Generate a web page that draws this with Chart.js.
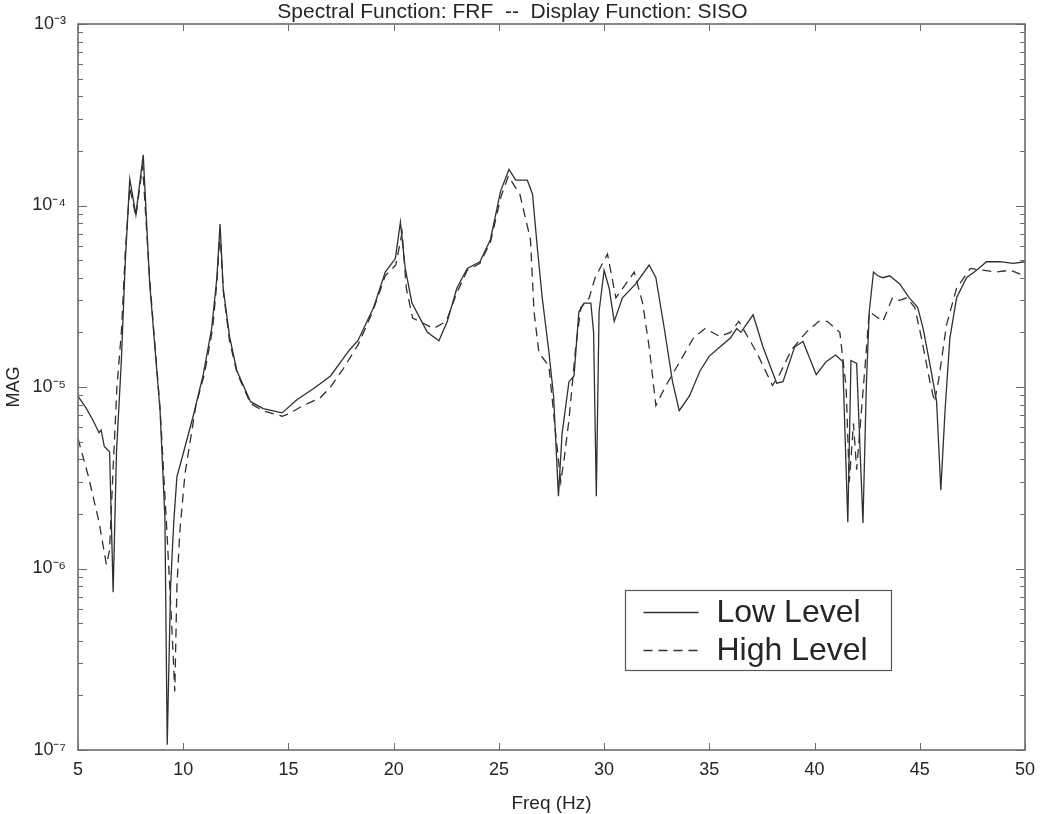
<!DOCTYPE html>
<html>
<head>
<meta charset="utf-8">
<script src="https://cdn.jsdelivr.net/npm/chart.js@4.4.1/dist/chart.umd.min.js"></script>
<style>
  html, body { margin: 0; padding: 0; background: #fff; }
  #wrap { width: 1045px; height: 814px; }
</style>
</head>
<body>
<div id="wrap"><canvas id="c" width="1045" height="814"></canvas></div>
<script>
// FRF magnitude, low vs high excitation level
const lowFreq = [
  5.0, 5.4, 5.7, 6.0, 6.1, 6.25, 6.5, 6.67, 6.83, 7.06, 7.25, 7.46, 7.75, 8.1, 8.4,
  8.9, 9.13, 9.24, 9.4, 9.55, 9.7, 10.0, 10.5, 10.95, 11.35, 11.6, 11.75, 11.9, 12.2,
  12.55, 13.2, 13.8, 14.7, 15.4, 16.2, 17.0, 17.9, 18.3, 19.05, 19.6, 20.08, 20.32,
  20.55, 20.87, 21.6, 22.15, 22.55, 23.0, 23.5, 24.1, 24.6, 25.08, 25.48, 25.8, 26.35,
  26.6, 26.83, 27.06, 27.38, 27.6, 27.83, 28.0, 28.33, 28.57, 28.8, 29.05, 29.37, 29.5,
  29.63, 29.76, 30.0, 30.24, 30.48, 30.87, 31.5, 32.14, 32.46, 32.86, 33.25, 33.57,
  34.05, 34.56, 35.0, 35.5, 36.0, 36.3, 36.5, 37.08, 37.55, 38.2, 38.5, 39.05, 39.45,
  40.08, 40.55, 41.0, 41.34, 41.58, 41.73, 42.0, 42.3, 42.46, 42.6, 42.8, 43.0, 43.25,
  43.57, 44.05, 44.5, 44.9, 45.16, 45.5, 45.8, 46.0, 46.2, 46.43, 46.75, 47.22, 47.7,
  48.17, 48.8, 49.44, 50.0
]
const lowMag = [
  8.9e-6, 7.6e-6, 6.6e-6, 5.6e-6, 5.8e-6, 4.7e-6, 4.4e-6, 7.4e-7, 4.4e-6, 1.4e-5, 5.0e-5, 1.4e-4, 8.9e-5, 1.9e-4, 3.8e-5,
  7.4e-6, 1.9e-6, 1.07e-7, 8e-7, 1.8e-6, 3.2e-6, 4.3e-6, 7.1e-6, 1.17e-5, 2.1e-5, 4.0e-5, 7.9e-5, 3.5e-5, 1.9e-5,
  1.23e-5, 8.3e-6, 7.6e-6, 7.2e-6, 8.5e-6, 9.8e-6, 1.15e-5, 1.6e-5, 1.8e-5, 2.75e-5, 4.3e-5, 5.1e-5, 8.1e-5,
  4.5e-5, 2.9e-5, 2.0e-5, 1.8e-5, 2.3e-5, 3.5e-5, 4.5e-5, 4.9e-5, 6.5e-5, 1.2e-4, 1.58e-4, 1.38e-4, 1.38e-4,
  1.15e-4, 5.8e-5, 3.1e-5, 1.55e-5, 8.9e-6, 2.5e-6, 5.5e-6, 1.07e-5, 1.15e-5, 2.6e-5, 2.9e-5, 2.9e-5, 2.0e-5,
  2.5e-6, 2.6e-5, 4.4e-5, 3.5e-5, 2.3e-5, 3.1e-5, 3.7e-5, 4.7e-5, 4.0e-5, 2.1e-5, 1.07e-5, 7.4e-6,
  8.9e-6, 1.23e-5, 1.48e-5, 1.66e-5, 1.86e-5, 2.1e-5, 2.0e-5, 2.5e-5, 1.66e-5, 1.05e-5, 1.07e-5, 1.66e-5, 1.78e-5,
  1.17e-5, 1.38e-5, 1.5e-5, 1.38e-5, 1.8e-6, 1.4e-5, 1.35e-5, 1.78e-6, 1.02e-5, 2.6e-5, 4.3e-5, 4.1e-5, 4.0e-5,
  4.1e-5, 3.7e-5, 3.1e-5, 2.75e-5, 2.1e-5, 1.3e-5, 8.3e-6, 2.7e-6, 7.4e-6, 1.86e-5, 3.1e-5, 4.0e-5, 4.4e-5,
  4.9e-5, 4.9e-5, 4.8e-5, 4.9e-5
]

const highFreq = [
  5.0, 5.5, 6.0, 6.35, 6.5, 6.65, 6.85, 7.06, 7.25, 7.46, 7.75, 8.07, 8.4, 8.9, 9.2,
  9.45, 9.6, 9.7, 9.84, 10.08, 10.6, 11.0, 11.4, 11.6, 11.75, 11.9, 12.2, 12.55, 13.2,
  13.8, 14.7, 15.0, 15.7, 16.5, 17.0, 17.6, 18.3, 19.0, 19.6, 20.1, 20.4, 20.6, 20.9,
  21.9, 22.5, 23.0, 23.5, 24.1, 24.6, 25.1, 25.45, 26.0, 26.5, 26.67, 26.9, 27.38, 27.7,
  27.94, 28.1, 28.33, 28.65, 28.9, 29.29, 29.57, 30.16, 30.56, 31.43, 31.83, 32.14,
  32.46, 32.94, 33.6, 34.24, 34.8, 35.5, 36.0, 36.4, 36.6, 37.25, 38.0, 38.3, 38.9,
  39.6, 40.2, 40.6, 41.2, 41.5, 41.65, 41.85, 42.0, 42.4, 42.6, 43.25, 43.7, 44.05,
  44.37, 44.76, 45.08, 45.48, 45.7, 45.9, 46.27, 46.75, 47.4, 48.0, 48.65, 49.3, 50.0
]
const highMag = [
  5.2e-6, 3.2e-6, 1.8e-6, 1.05e-6, 1.26e-6, 3.2e-6, 1.0e-5, 2.0e-5, 5.6e-5, 1.26e-4, 8.7e-5, 1.66e-4, 4.0e-5, 7.6e-6, 1.8e-6,
  5e-7, 2.1e-7, 8e-7, 1.6e-6, 3.3e-6, 7.9e-6, 1.17e-5, 2.1e-5, 3.8e-5, 7.1e-5, 3.4e-5, 1.8e-5, 1.2e-5, 8.1e-6,
  7.4e-6, 6.9e-6, 7.1e-6, 7.9e-6, 8.7e-6, 1.0e-5, 1.26e-5, 1.7e-5, 2.6e-5, 4.1e-5, 4.7e-5, 7.1e-5, 3.5e-5, 2.4e-5,
  2.1e-5, 2.3e-5, 3.3e-5, 4.4e-5, 4.8e-5, 6.3e-5, 1.12e-4, 1.45e-4, 1.15e-4, 6.5e-5, 2.6e-5, 1.55e-5, 1.3e-5, 5.5e-6,
  3.0e-6, 4.0e-6, 6.6e-6, 1.66e-5, 2.75e-5, 3.1e-5, 4.0e-5, 5.4e-5, 3.1e-5, 4.3e-5, 2.9e-5, 1.66e-5,
  7.9e-6, 1.02e-5, 1.38e-5, 1.86e-5, 2.1e-5, 1.9e-5, 2.0e-5, 2.3e-5, 2.1e-5, 1.55e-5, 1.02e-5, 1.15e-5, 1.6e-5,
  2.0e-5, 2.3e-5, 2.3e-5, 2.0e-5, 1.0e-5, 3.0e-6, 6.3e-6, 3.5e-6, 1.3e-5, 2.6e-5, 2.3e-5, 3.1e-5, 3.0e-5,
  3.1e-5, 2.75e-5, 1.86e-5, 1.07e-5, 8.3e-6, 1.1e-5, 2.2e-5, 3.5e-5, 4.5e-5, 4.4e-5, 4.3e-5, 4.4e-5, 4.1e-5
]

const xTicks = [5, 10, 15, 20, 25, 30, 35, 40, 45, 50]
const decades = [-7, -6, -5, -4, -3]
const seriesNames = ['Low Level', 'High Level']
const titleText = 'Spectral Function: FRF  --  Display Function: SISO'

const FONT = "'Liberation Sans', Arial, Helvetica, sans-serif"
const INK = '#262626'
const SUP = { '-': '\u207B', 0: '\u2070', 1: '\u00B9', 2: '\u00B2', 3: '\u00B3', 4: '\u2074', 5: '\u2075', 6: '\u2076', 7: '\u2077', 8: '\u2078', 9: '\u2079' }
const sup = (n) => String(n).split('').map((c) => SUP[c]).join('')

const toPoints = (xs, ys) => xs.map((x, i) => ({ x, y: ys[i] }))

// Frame, inward tick marks and the boxed legend, matlab style
const framePlugin = {
  id: 'frame',
  afterDatasetsDraw(chart) {
    const { ctx, chartArea: a, scales: { x, y } } = chart
    const seg = (x1, y1, x2, y2) => { ctx.beginPath(); ctx.moveTo(x1, y1); ctx.lineTo(x2, y2); ctx.stroke() }
    ctx.save()
    ctx.strokeStyle = '#6b6b6b'
    ctx.lineWidth = 1
    x.ticks.forEach((t) => {
      const px = Math.round(x.getPixelForValue(t.value)) + 0.5
      seg(px, a.bottom, px, a.bottom - 7)
      seg(px, a.top, px, a.top + 7)
    })
    y.ticks.forEach((t) => {
      const py = Math.round(y.getPixelForValue(t.value)) + 0.5
      const len = t.major ? 9 : 5
      seg(a.left, py, a.left + len, py)
      seg(a.right, py, a.right - len, py)
    })
    ctx.lineWidth = 1.6
    ctx.strokeRect(a.left, a.top, a.right - a.left, a.bottom - a.top)

    // legend box inside the axes
    const bx = Math.round(x.getPixelForValue(31.0)) + 0.5
    const by = Math.round(y.getPixelForValue(7.6e-7)) + 0.5
    const bw = 266
    const bh = 80
    ctx.fillStyle = '#fff'
    ctx.fillRect(bx, by, bw, bh)
    ctx.strokeStyle = '#555'
    ctx.lineWidth = 1.2
    ctx.strokeRect(bx, by, bw, bh)
    ctx.font = `32px ${FONT}`
    ctx.textBaseline = 'middle'
    chart.data.datasets.forEach((ds, i) => {
      const ly = by + 22 + i * 38
      ctx.strokeStyle = ds.borderColor
      ctx.lineWidth = ds.borderWidth
      ctx.setLineDash(ds.borderDash || [])
      seg(bx + 18, ly, bx + 73, ly)
      ctx.setLineDash([])
      ctx.fillStyle = INK
      ctx.fillText(ds.label, bx + 91, ly + 1)
    })
    ctx.restore()
  }
}

new Chart(document.getElementById('c'), {
  type: 'line',
  data: {
    datasets: [
      {
        label: seriesNames[0],
        data: toPoints(lowFreq, lowMag),
        borderColor: '#303030',
        borderWidth: 1.3,
        pointRadius: 0,
        tension: 0
      },
      {
        label: seriesNames[1],
        data: toPoints(highFreq, highMag),
        borderColor: '#303030',
        borderWidth: 1.3,
        borderDash: [9, 6],
        pointRadius: 0,
        tension: 0
      }
    ]
  },
  options: {
    responsive: false,
    animation: false,
    events: [],
    layout: { padding: { left: 0, right: 20, top: 0, bottom: 0 } },
    scales: {
      x: {
        type: 'linear',
        min: 5,
        max: 50,
        afterBuildTicks: (s) => { s.ticks = xTicks.map((v) => ({ value: v })) },
        afterFit: (s) => { s.height = 64 },
        grid: { display: false, drawTicks: false },
        border: { display: false },
        ticks: { color: INK, font: { family: FONT, size: 18 }, padding: 9, maxRotation: 0, autoSkip: false },
        title: { display: true, text: 'Freq (Hz)', color: INK, font: { family: FONT, size: 19, lineHeight: 1 }, padding: { top: 0, bottom: 1 } }
      },
      y: {
        type: 'logarithmic',
        min: 1e-7,
        max: 1e-3,
        afterBuildTicks: (s) => {
          const ticks = []
          decades.forEach((e) => {
            for (let m = 1; m <= 9; m++) {
              if (e === -3 && m > 1) break
              ticks.push({ value: m * Math.pow(10, e), major: m === 1 })
            }
          })
          s.ticks = ticks
        },
        afterFit: (s) => { s.width = 78 },
        grid: { display: false, drawTicks: false },
        border: { display: false },
        ticks: {
          color: INK,
          font: { family: FONT, size: 18 },
          padding: 12,
          autoSkip: false,
          callback: (v) => {
            const e = Math.round(Math.log10(v))
            return Math.abs(v / Math.pow(10, e) - 1) < 1e-6 ? '10' + sup(e) : ''
          }
        },
        title: { display: true, text: 'MAG', color: INK, font: { family: FONT, size: 18, lineHeight: 1 }, padding: { top: 5, bottom: 0 } }
      }
    },
    plugins: {
      legend: { display: false },
      tooltip: { enabled: false },
      title: {
        display: true,
        text: titleText,
        color: INK,
        font: { family: FONT, size: 21, weight: 'normal', lineHeight: 1 },
        padding: { top: 2, bottom: 1 }
      }
    }
  },
  plugins: [framePlugin]
})
</script>
</body>
</html>
